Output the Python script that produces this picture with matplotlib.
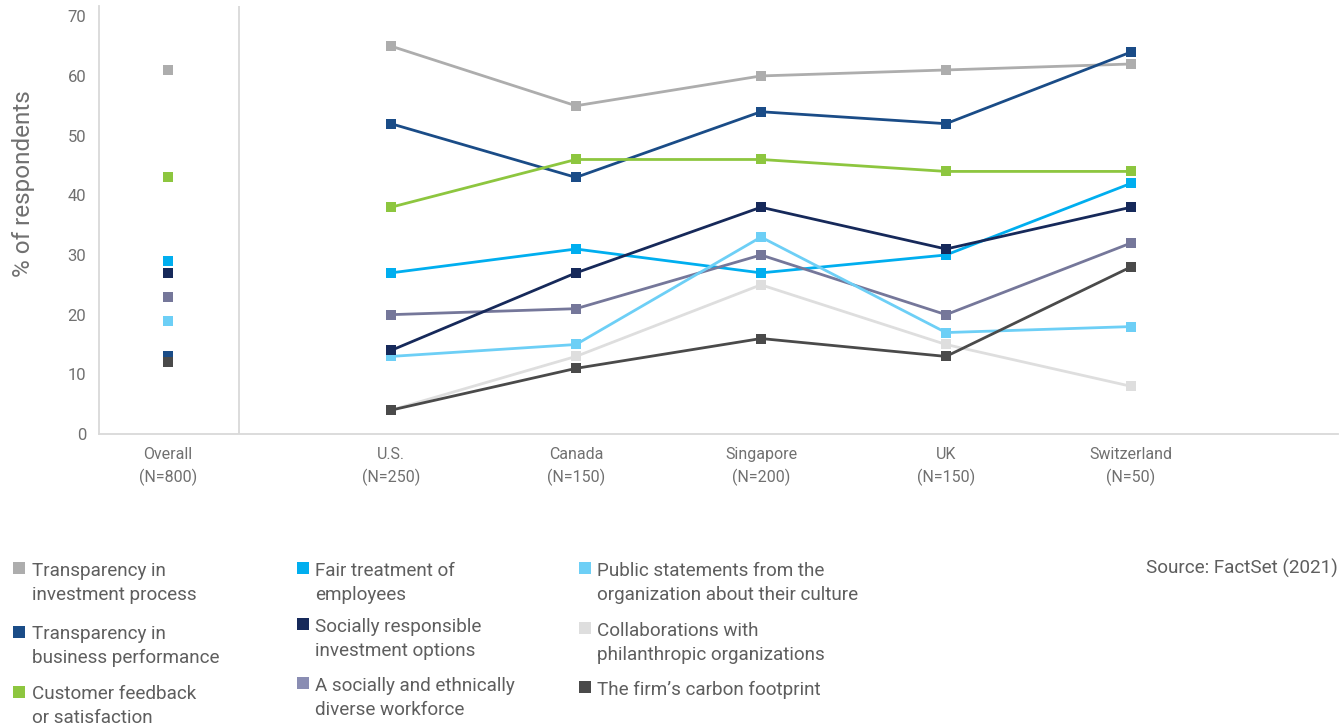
import matplotlib
matplotlib.use('Agg')
from matplotlib import pyplot as plt
from matplotlib.lines import Line2D

plt.rcParams['font.family'] = ['Roboto', 'DejaVu Sans']

# data
categories = ['Overall\n(N=800)', 'U.S.\n(N=250)', 'Canada\n(N=150)',
              'Singapore\n(N=200)', 'UK\n(N=150)', 'Switzerland\n(N=50)']

series_names = [
    'Transparency in\ninvestment process',
    'Transparency in\nbusiness performance',
    'Customer feedback\nor satisfaction',
    'Fair treatment of\nemployees',
    'Socially responsible\ninvestment options',
    'A socially and ethnically\ndiverse workforce',
    'Public statements from the\norganization about their culture',
    'Collaborations with\nphilanthropic organizations',
    'The firm\u2019s carbon footprint',
]

invest_process = [61, 65, 55, 60, 61, 62]
business_perf = [13, 52, 43, 54, 52, 64]
customer_feedback = [43, 38, 46, 46, 44, 44]
fair_treatment = [29, 27, 31, 27, 30, 42]
socially_resp = [27, 14, 27, 38, 31, 38]
diverse_workforce = [23, 20, 21, 30, 20, 32]
public_statements = [19, 13, 15, 33, 17, 18]
collaborations = [12, 4, 13, 25, 15, 8]
carbon_footprint = [12, 4, 11, 16, 13, 28]

values = [invest_process, business_perf, customer_feedback, fair_treatment,
          socially_resp, diverse_workforce, public_statements,
          collaborations, carbon_footprint]

colors = ['#ADADAD', '#1A4C87', '#8DC63F', '#00AEEF', '#16295A',
          '#75779A', '#6DCFF6', '#DEDEDE', '#4A4A4A']
legend_colors = ['#ADADAD', '#1A4C87', '#8DC63F', '#00AEEF', '#16295A',
                 '#8A8DB3', '#6DCFF6', '#DEDEDE', '#4A4A4A']
zorders = [3, 4, 5, 6, 9, 7, 8, 10, 11]

xpos = [0, 1.205, 2.205, 3.205, 4.205, 5.205]

fig = plt.figure(figsize=(13.43, 7.27), dpi=100)
ax = fig.add_axes([0.0737, 0.403, 0.9226, 0.5886])

for vals, c, z in zip(values, colors, zorders):
    # overall point stands alone
    ax.plot(xpos[0], vals[0], marker='s', ms=7, mew=0, color=c, ls='none', zorder=z)
    ax.plot(xpos[1:], vals[1:], marker='s', ms=7, mew=0, color=c, lw=2.0, zorder=z)

ax.axvline(0.384, color='#D9D9D9', lw=1.3, zorder=1)

ax.set_xlim(-0.373, 6.324)
ax.set_ylim(0, 71.7)
ax.set_yticks(range(0, 71, 10))
ax.set_xticks(xpos)
ax.set_xticklabels(categories, linespacing=1.55)
ax.tick_params(axis='both', length=0, labelcolor='#707070')
ax.tick_params(axis='y', pad=9, labelsize=12)
ax.tick_params(axis='x', pad=9, labelsize=11.5)
for s in ['top', 'right']:
    ax.spines[s].set_visible(False)
for s in ['left', 'bottom']:
    ax.spines[s].set_color('#D9D9D9')
    ax.spines[s].set_linewidth(1.3)
ax.set_ylabel('% of respondents', fontsize=17.5, color='#707070')
ax.yaxis.set_label_coords(-0.052, 0.584)

# legend in three columns, one text per line
line_step = 24 / 727
col_x = [0.0236, 0.2345, 0.4448]
sq_x = [0.0140, 0.2255, 0.4358]
row_y = [[0.2077, 0.1206, 0.0381], [0.2077, 0.1311, 0.0499], [0.2077, 0.1256, 0.0440]]
for i, (name, c) in enumerate(zip(series_names, legend_colors)):
    col, row = i // 3, i % 3
    y = row_y[col][row]
    fig.add_artist(Line2D([sq_x[col]], [y + 0.0106], marker='s', ms=8.4, mew=0,
                          color=c, ls='none', transform=fig.transFigure))
    for k, line in enumerate(name.split('\n')):
        fig.text(col_x[col], y - k * line_step, line, fontsize=13.6,
                 color='#5E5E5E', va='baseline')

fig.text(0.9963, 1 - 573.3 / 727, 'Source: FactSet (2021)', fontsize=13.6,
         color='#5E5E5E', ha='right', va='baseline')

fig.savefig('out.png', dpi=100)
